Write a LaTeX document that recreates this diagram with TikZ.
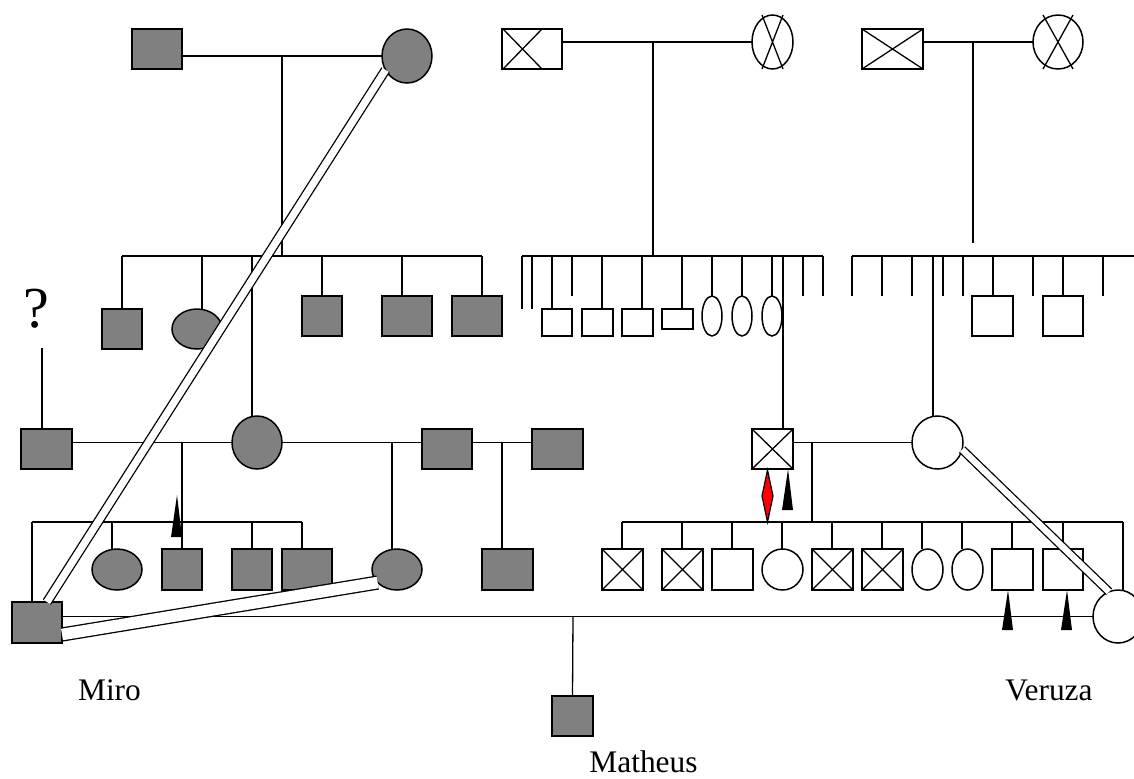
\documentclass[tikz,border=0pt]{standalone}
\usepackage{fontspec}
\setmainfont{Liberation Serif}
\usetikzlibrary{shapes.geometric}
\definecolor{affgray}{HTML}{808080}
\definecolor{markred}{HTML}{FF0000}
\tikzset{
    person/.style={draw=black, line width=0.75pt, inner sep=0pt, outer sep=0pt},
    male/.style 2 args={person, rectangle, minimum width=#1*0.5pt, minimum height=#2*0.5pt},
    female/.style 2 args={person, ellipse, minimum width=#1*0.5pt, minimum height=#2*0.5pt},
    affected/.style={fill=affgray},
    deceased/.style={path picture={
        \draw[line width=0.65pt] (path picture bounding box.north west) -- (path picture bounding box.south east)
            (path picture bounding box.south west) -- (path picture bounding box.north east);}},
    link/.style={line width=0.65pt},
    consang/.style={line width=0.65pt, double, double distance=#1},
    pointer/.style={fill=black},
    proband/.style={draw=black, line width=0.6pt, fill=markred},
    persontag/.style={font=\fontsize{15.7pt}{18pt}\selectfont, inner sep=0pt, anchor=base}
}

\begin{document}
\begin{tikzpicture}[x=0.5pt, y=-0.5pt]
    \useasboundingbox (0,0) rectangle (1134,778);

    % generation I
    \node[male={50}{40}, affected] (g1a) at (157,49) {};
    \node[female={50}{54}, affected] (g1b) at (407,56) {};
    \node[male={60}{40}] (g1c) at (532,49) {};
    \node[female={41}{54}] (g1d) at (772.5,42) {};
    \node[male={61}{40}, deceased] (g1e) at (892.5,49) {};
    \node[female={50}{54}] (g1f) at (1058,42) {};
    \draw[link] ([xshift=0.5pt]g1c.north west) -- ([xshift=-10pt]g1c.south east)
        ([xshift=0.5pt]g1c.south west) -- ([xshift=-10pt]g1c.north east);
    \foreach \n/\d in {g1d/5.25pt, g1f/7.5pt}{
        \draw[link] ([xshift=-\d]\n.north) -- ([xshift=\d]\n.south)
            ([xshift=\d]\n.north) -- ([xshift=-\d]\n.south);
    }
    \draw[link] (g1a.east |- g1b.west) -- (g1b.west);
    \draw[link] (g1c.east |- g1d.west) -- (g1d.west);
    \draw[link] (g1e.east |- g1f.west) -- (g1f.west);

    % generation II
    \node[male={40}{40}, affected] (a1) at (122,329) {};
    \node[female={50}{40}, affected] (a2) at (197,329) {};
    \foreach \i/\x/\w in {3/322/40, 4/407/50, 5/477/50}
        \node[male={\w}{40}, affected] (a\i) at (\x,316) {};
    \foreach \i/\x/\w/\y/\h in {1/557/30/322.5/27, 2/597.5/31/322.5/27, 3/637.5/31/322.5/27, 4/677.5/31/319/20}
        \node[male={\w}{\h}] (b\i) at (\x,\y) {};
    \foreach \i/\x in {5/712, 6/742, 7/772}
        \node[female={20}{40}] (b\i) at (\x,316) {};
    \node[male={41}{40}] (c1) at (992.5,316) {};
    \node[male={40}{40}] (c2) at (1063,316) {};

    % generation III
    \node[font=\fontsize{29pt}{30pt}\selectfont, inner sep=0pt, anchor=base] (qm) at (36.5,327) {?};
    \node[male={51}{40}, affected] (p1) at (46.5,449) {};
    \node[female={50}{53}, affected] (p2) at (257,442.5) {};
    \node[male={50}{40}, affected] (p3) at (447,449) {};
    \node[male={51}{40}, affected] (p4) at (557.5,449) {};
    \node[male={41}{40}, deceased] (q1) at (772.5,449) {};
    \node[female={51}{53}] (q2) at (937.5,442.5) {};

    % generation IV
    \node[female={50}{41}, affected] (d1) at (117,569.5) {};
    \foreach \i/\x/\w in {2/182/40, 3/252/40, 4/307/50}
        \node[male={\w}{41}, affected] (d\i) at (\x,569.5) {};
    \node[female={50}{41}, affected] (e1) at (397,569.5) {};
    \node[male={51}{41}, affected] (e2) at (507.5,569.5) {};
    \foreach \i/\x in {1/622.5, 2/682.5, 5/832.5, 6/882.5}
        \node[male={41}{41}, deceased] (r\i) at (\x,569.5) {};
    \foreach \i/\x/\w in {3/732.5/41, 9/1012.5/41, 10/1063/40}
        \node[male={\w}{41}] (r\i) at (\x,569.5) {};
    \node[female={41}{41}] (r4) at (782.5,569.5) {};
    \foreach \i/\x in {7/927.5, 8/967.5}
        \node[female={31}{41}] (r\i) at (\x,569.5) {};
    \node[male={50}{41}, affected] (m) at (37,622.5) {};
    \node[female={50}{53}] (v) at (1118,616.5) {};

    % generation V
    \node[male={41}{40}, affected] (t) at (572.5,716) {};

    % sibships, first family
    \draw[link] (282,0 |- g1b.west) -- (282,256);
    \draw[link] (122,256) -- (482,256);
    \foreach \i/\x in {1/122, 2/202, 3/322, 4/402, 5/482}
        \draw[link] (\x,256) -- (\x,0 |- a\i.north);
    \draw[link] (252,256) -- (252,0 |- p2.north);

    % second family
    \draw[link] (653,0 |- g1d.west) -- (653,256);
    \draw[link] (522,256) -- (823,256);
    \foreach \x/\y in {522/309, 532/309, 572/296, 803/296, 823/296}
        \draw[link] (\x,256) -- (\x,\y);
    \foreach \i/\x in {1/552, 2/602, 3/642, 4/682, 5/712, 6/742, 7/772}
        \draw[link] (\x,256) -- (\x,0 |- b\i.north);
    \draw[link] (783,256) -- (783,0 |- q1.north);

    % third family
    \draw[link] (973,0 |- g1f.west) -- (973,243);
    \draw[link] (852,256) -- (1134,256);
    \foreach \x in {852, 882, 912, 943, 963, 1033, 1103}
        \draw[link] (\x,256) -- (\x,296);
    \foreach \i/\x in {1/993, 2/1063}
        \draw[link] (\x,256) -- (\x,0 |- c\i.north);
    \draw[link] (933,256) -- (933,0 |- q2.north);

    % left couples
    \draw[link] (42,348) -- (42,0 |- p1.north);
    \draw[link] (p1.east |- p2.west) -- (p2.west);
    \draw[link] (p2.east) -- (p3.west |- p2.east);
    \draw[link] (p3.east |- p2.east) -- (p4.west |- p2.east);
    \draw[link] (182,0 |- p2.west) -- (182,522);
    \draw[link] (32,522) -- (302,522);
    \foreach \i/\x in {1/112, 2/182, 3/252, 4/302}
        \draw[link] (\x,522) -- (\x,0 |- d\i.north);
    \draw[link] (32,522) -- (32,0 |- m.north);
    \draw[link] (392,0 |- p2.east) -- (392,0 |- e1.north);
    \draw[link] (502,0 |- p2.east) -- (502,0 |- e2.north);

    % right couple
    \draw[link] (q1.east |- q2.west) -- (q2.west);
    \draw[link] (812,0 |- q2.west) -- (812,522);
    \draw[link] (622,522) -- (1123,522);
    \foreach \i/\x in {1/622, 2/682, 3/732, 4/782, 5/832, 6/882, 7/922, 8/962, 9/1012, 10/1063}
        \draw[link] (\x,522) -- (\x,0 |- r\i.north);
    \draw[link] (1123,522) -- (1123,0 |- v.north);

    % last couple
    \draw[link] (m.east |- v.west) -- (v.west);
    \draw[link] (573,0 |- v.west) -- (t.north);

    % consanguinity
    \draw[consang=3.6pt] (g1b.213) -- ([xshift=5pt]m.north);
    \draw[consang=5.8pt] ([yshift=-6pt]m.east) -- (e1.214);
    \draw[consang=3.2pt] (q2.344) -- (v.110);

    % markers
    \foreach \tx/\ty/\by in {177/495/537, 788/469/510, 1008/590/630, 1067/590/630}
        \fill[pointer] (\tx,\ty) -- (\tx-6,\by) -- (\tx+5,\by) -- cycle;
    \draw[proband] (767.5,470) -- (773,496) -- (767.5,522) -- (762,496) -- cycle;

    \node[persontag] (miro) at (109.5,700) {Miro};
    \node[persontag] (veruza) at (1049,700) {Veruza};
    \node[persontag] (matheus) at (643.5,772) {Matheus};
\end{tikzpicture}
\end{document}
